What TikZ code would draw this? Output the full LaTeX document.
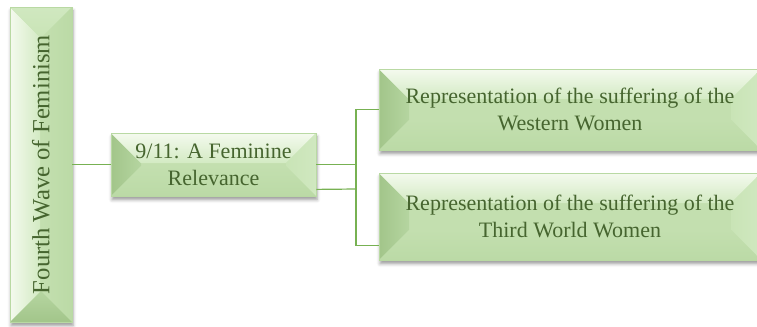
\documentclass[tikz,border=0pt]{standalone}
\usepackage{fontspec}
\setmainfont{Liberation Serif}
\usepackage{graphicx}
\usetikzlibrary{calc,shadows.blur}
\definecolor{mainc}{HTML}{C3DFAF}
\definecolor{edgec}{HTML}{B9D9A3}
\definecolor{txtc}{HTML}{46652F}
\definecolor{connc}{HTML}{77B152}
\definecolor{lightO}{HTML}{F4FAEE}
\definecolor{lightI}{HTML}{D3EAC3}
\definecolor{darkO}{HTML}{A2C58A}
\definecolor{darkI}{HTML}{B5D5A0}
\definecolor{rightO}{HTML}{D0E8C0}
\definecolor{rightI}{HTML}{C9E4B6}
\definecolor{botO}{HTML}{BBDAA6}
\definecolor{botI}{HTML}{C3DFAF}
\newcommand{\bv}{22.5pt}
% args: left outer/inner, top outer/inner, right outer/inner, bottom outer/inner
\newcommand{\bevelpic}[8]{%
  \path (path picture bounding box.north west) coordinate (pNW)
        (path picture bounding box.north east) coordinate (pNE)
        (path picture bounding box.south west) coordinate (pSW)
        (path picture bounding box.south east) coordinate (pSE);
  \shade[left color=#1, right color=#2] (pNW) -- ([shift={(\bv,-\bv)}]pNW) -- ([shift={(\bv,\bv)}]pSW) -- (pSW) -- cycle;
  \shade[top color=#3, bottom color=#4] (pNW) -- (pNE) -- ([shift={(-\bv,-\bv)}]pNE) -- ([shift={(\bv,-\bv)}]pNW) -- cycle;
  \shade[left color=#6, right color=#5] (pNE) -- (pSE) -- ([shift={(-\bv,\bv)}]pSE) -- ([shift={(-\bv,-\bv)}]pNE) -- cycle;
  \shade[top color=#8, bottom color=#7] (pSW) -- (pSE) -- ([shift={(-\bv,\bv)}]pSE) -- ([shift={(\bv,\bv)}]pSW) -- cycle;
}
\tikzset{
  boxbase/.style={rectangle, inner sep=0pt, draw=edgec, line width=0.6pt, fill=mainc,
    text=txtc, align=center, font=\fontsize{16.5}{20.25}\selectfont,
    blur shadow={shadow xshift=0.8pt, shadow yshift=-2.8pt, shadow blur radius=2.5pt, shadow opacity=40}},
  hbox/.style={boxbase, path picture={\bevelpic{darkO}{darkI}{lightO}{lightI}{rightO}{rightI}{botO}{botI}}},
  vbox/.style={boxbase, path picture={\bevelpic{lightO}{lightI}{rightO}{rightI}{botO}{botI}{darkO}{darkI}}},
  conn/.style={draw=connc, line width=0.9pt}
}
\begin{document}
\begin{tikzpicture}[x=0.75pt,y=-0.75pt]
\useasboundingbox (0,0) rectangle (757,326);
\node[vbox, minimum width=46.5pt, minimum height=236.25pt] (fw) at (41,164.5)
  {\rotatebox{90}{\fontsize{18.5}{22}\selectfont Fourth Wave of Feminism}};
\node[hbox, minimum width=153.75pt, minimum height=47.25pt] (mid) at (213.5,164.5)
  {9/11: A Feminine\\Relevance};
\node[hbox, minimum width=286.5pt, minimum height=60.75pt] (wst) at (570,109.5)
  {Representation of the suffering of the\\Western Women};
\node[hbox, minimum width=286.5pt, minimum height=65.25pt] (tw) at (570,216.5)
  {Representation of the suffering of the\\Third World Women};
\coordinate (ja) at (356,164.5);
\coordinate (jb) at (356,189);
\coordinate (midlow) at ($(mid.south east)+(0,-7)$);
\coordinate (twin) at ($(tw.south west)+(0,-15)$);
\draw[conn] (fw.east) -- (mid.west);
\draw[conn] (mid.east) -- (ja);
\draw[conn] (midlow) -- (jb);
\draw[conn] (ja) |- (wst.west);
\draw[conn] (ja) -- (jb);
\draw[conn] (jb) |- (twin);
\end{tikzpicture}
\end{document}
